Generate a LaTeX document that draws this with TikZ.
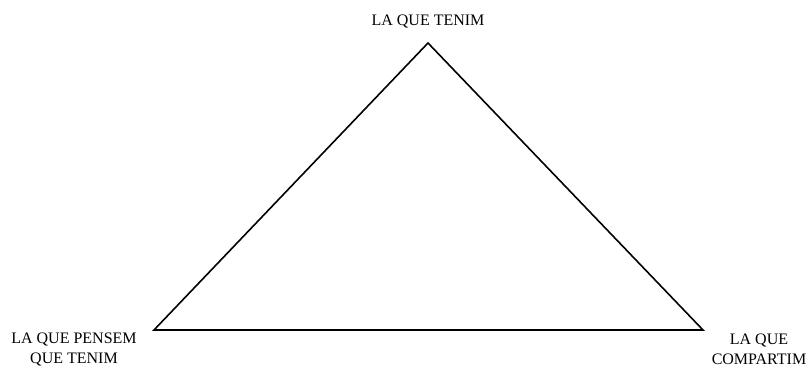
\documentclass[tikz,border=0pt]{standalone}
\usepackage{fontspec}
\setmainfont{Liberation Serif}
\usepackage{tikz}

\begin{document}
\begin{tikzpicture}[x=1pt,y=1pt,lbl/.style={align=center,inner sep=0pt,font=\fontsize{16}{20}\selectfont}]
	\useasboundingbox (0,0) rectangle (809,367);
	\coordinate (T) at (428,324);
	\coordinate (L) at (154,37);
	\coordinate (R) at (703,37);
	\draw[line width=1.6pt,line join=miter] (T) -- (R) -- (L) -- cycle;
	\node[lbl] (tenim) at (428,345) {LA QUE TENIM};
	\node[lbl] (pensem) at (74,18) {LA QUE PENSEM\\QUE TENIM};
	\node[lbl] (compartim) at (759,18) {LA QUE\\COMPARTIM};
\end{tikzpicture}
\end{document}
